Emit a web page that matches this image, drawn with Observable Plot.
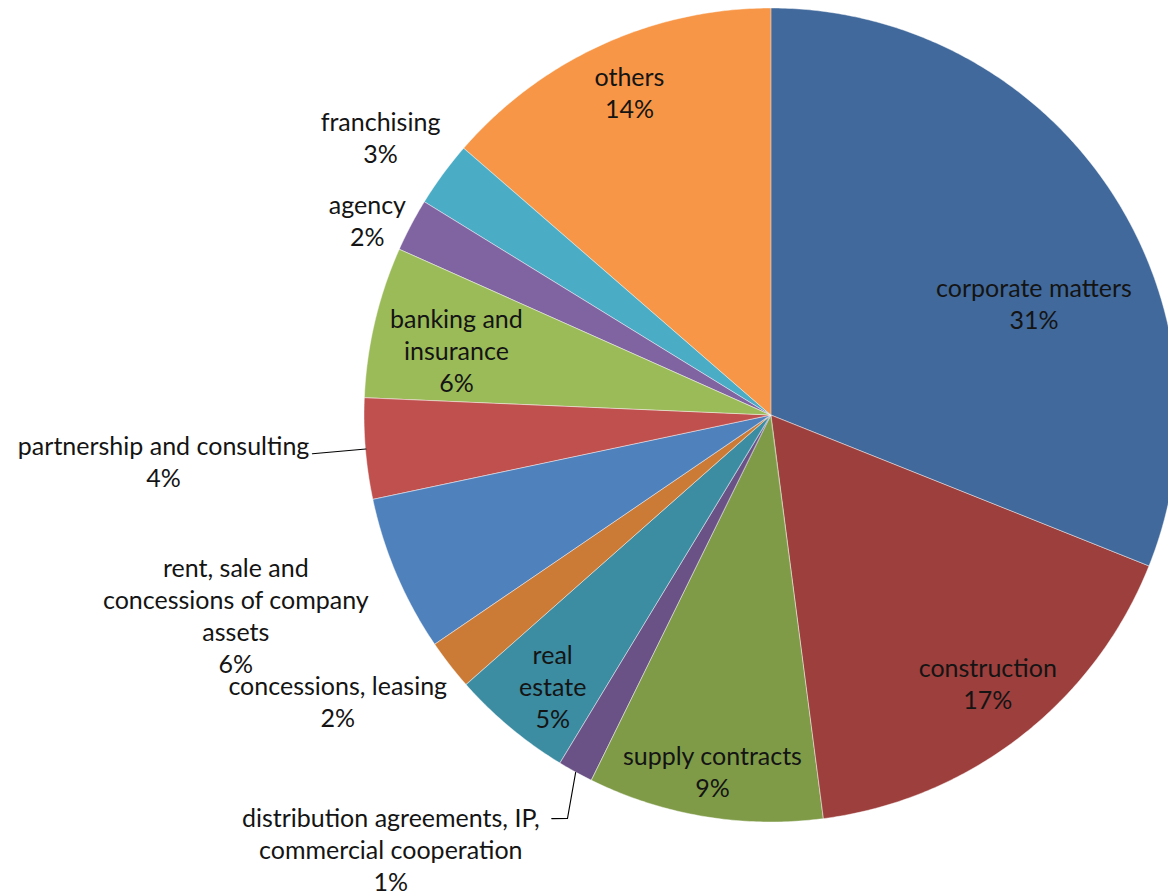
<!DOCTYPE html>
<html><head><meta charset="utf-8">
<script src="https://cdn.jsdelivr.net/npm/d3@7"></script>
<script src="https://cdn.jsdelivr.net/npm/@observablehq/plot@0.6"></script>
<style>body{margin:0;background:#fff;overflow:hidden}</style>
</head><body><div id="chart"></div>
<script>
// ---- data (clockwise from 12 o'clock) ----
const categories = ["corporate matters","construction","supply contracts","distribution agreements, IP, commercial cooperation","real estate","concessions, leasing","rent, sale and concessions of company assets","partnership and consulting","banking and insurance","agency","franchising","others"];
const labelLines = ["corporate matters","construction","supply contracts","distribution agreements, IP,\ncommercial cooperation","real\nestate","concessions, leasing","rent, sale and\nconcessions of company\nassets","partnership and consulting","banking and\ninsurance","agency","franchising","others"];
const shares = [31.06, 16.9, 9.33, 1.4, 4.8, 2.0, 6.2, 4.0, 6.0, 2.1, 2.6, 13.61];
const percentLabels = ["31%","17%","9%","1%","5%","2%","6%","4%","6%","2%","3%","14%"];
const colors = ["#41699B","#9D3F3D","#7F9B48","#6A5286","#3C8CA2","#CC7B37","#4F81BD","#C0504D","#9BBB59","#8064A2","#4BACC6","#F79646"];

// ---- label layout: [radius factor, angle in degrees clockwise from top] ----
const labelPlacement = [[0.70,67.1],[0.848,141.2],[0.889,189.4],[1.42,221.2],[0.858,218.8],[1.278,236.5],[1.406,249.4],[1.498,265.6],[0.79,281.5],[1.101,295.6],[1.177,305.3],[0.865,336.2]];
// leader lines: slice index -> polar points after the slice edge
const leaders = [{i:7, pts:[[1.132,265.23]]},{i:3, pts:[[1.11,206.85],[1.128,208.6]]}];

// ---- geometry ----
const rad = d => d * Math.PI / 180;
const px = (r, a) => r * Math.sin(a);
const py = (r, a) => r * Math.cos(a);
const total = d3.sum(shares);
let acc = 0;
const slices = shares.map((v, i) => {
  const a0 = acc / total * 2 * Math.PI;
  acc += v;
  const a1 = acc / total * 2 * Math.PI;
  return {i, cat: categories[i], color: colors[i], a0, a1, mid: (a0 + a1) / 2};
});
const wedgePts = [];
for (const s of slices) {
  const n = Math.max(4, Math.ceil((s.a1 - s.a0) / rad(0.5)));
  for (let k = 0; k <= n; k++) {
    const a = s.a0 + (s.a1 - s.a0) * k / n;
    wedgePts.push({cat: s.cat, color: s.color, x: px(1, a), y: py(1, a)});
  }
}
const labels = slices.map(s => {
  const [r, deg] = labelPlacement[s.i];
  return {x: px(r, rad(deg)), y: py(r, rad(deg)), text: labelLines[s.i] + "\n" + percentLabels[s.i]};
});
const leaderPts = [];
for (const L of leaders) {
  const s = slices[L.i];
  leaderPts.push({id: L.i, x: px(1, s.mid), y: py(1, s.mid)});
  for (const [r, deg] of L.pts) leaderPts.push({id: L.i, x: px(r, rad(deg)), y: py(r, rad(deg))});
}

const W = 1168, H = 895, cx = 771, cy = 415, R = 407;
const chart = Plot.plot({
  width: W, height: H,
  margin: 0,
  x: {domain: [-cx / R, (W - cx) / R], axis: null},
  y: {domain: [-(H - cy) / R, cy / R], axis: null},
  color: {type: "identity"},
  style: {background: "#fff"},
  marks: [
    Plot.area(wedgePts, {x1: 0, y1: 0, x2: "x", y2: "y", z: "cat", fill: "color", stroke: "#ffffff", strokeOpacity: 0.55, strokeWidth: 0.8, clip: true}),
    Plot.line(leaderPts, {x: "x", y: "y", z: "id", stroke: "#000", strokeWidth: 1.1}),
    Plot.text(labels, {x: "x", y: "y", dy: -2, text: "text", fontSize: 25, lineHeight: 1.28, fontFamily: "Lato, 'Open Sans', sans-serif", fill: "#141414", textAnchor: "middle", lineAnchor: "middle"})
  ]
});
document.getElementById("chart").appendChild(chart);
</script>
</body></html>
